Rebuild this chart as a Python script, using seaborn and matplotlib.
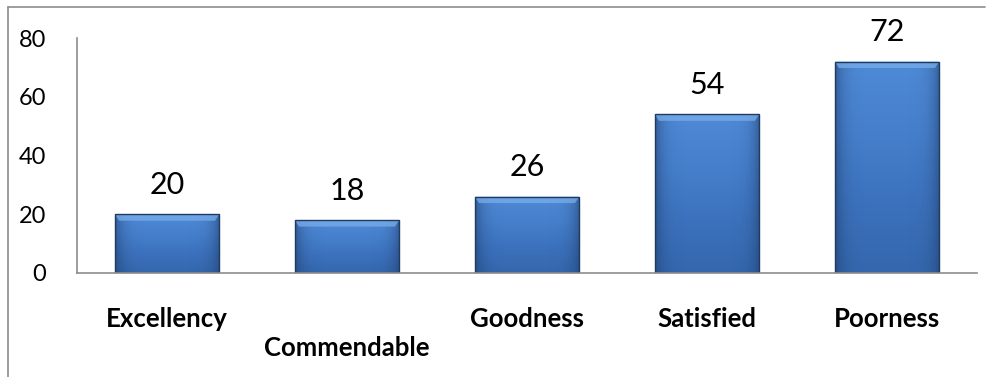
import numpy as np
import pandas as pd
import matplotlib
matplotlib.use("Agg")
import matplotlib.pyplot as plt
import matplotlib.transforms as mtransforms
from matplotlib.colors import LinearSegmentedColormap
import seaborn as sns

categories = ["Excellency", "Commendable", "Goodness", "Satisfied", "Poorness"]
values = [20, 18, 26, 54, 72]
y_ticks = [0, 20, 40, 60, 80]

sns.set_theme(style="white")
plt.rcParams["font.family"] = ["Lato", "DejaVu Sans"]

df = pd.DataFrame({"category": categories, "value": values})

fig = plt.figure(figsize=(9.95, 3.77), dpi=100)
ax = fig.add_axes([0.0774, 0.2759, 0.9045, 0.6233])

sns.barplot(data=df, x="category", y="value", color="#3f76c2", width=0.58,
            edgecolor="#1f3a63", linewidth=1.0, saturation=1, ax=ax)

# vertical gradient fill clipped to each bar, with a lighter bevel on top
grad_cmap = LinearSegmentedColormap.from_list(
    "bar", ["#3467ad", "#3c72bd", "#4680cc", "#4f8ad6"])
for patch in ax.patches:
    x0, y0 = patch.get_x(), patch.get_y()
    w, h = patch.get_width(), patch.get_height()
    grad = np.linspace(0, 1, 256).reshape(-1, 1)
    img = ax.imshow(grad, extent=[x0, x0 + w, y0, y0 + h], origin="lower",
                    cmap=grad_cmap, aspect="auto", zorder=patch.get_zorder() + 0.1,
                    interpolation="bicubic")
    img.set_clip_path(patch)
    # horizontal shading: darker near the sides
    side = np.abs(np.linspace(-1, 1, 256)).reshape(1, -1) ** 6
    side_rgba = np.zeros((1, 256, 4))
    side_rgba[..., :3] = np.array([0.12, 0.23, 0.40])
    side_rgba[..., 3] = side * 0.55
    simg = ax.imshow(side_rgba, extent=[x0, x0 + w, y0, y0 + h], origin="lower",
                     aspect="auto", zorder=patch.get_zorder() + 0.2,
                     interpolation="bicubic")
    simg.set_clip_path(patch)
    patch.set_zorder(patch.get_zorder() + 0.3)
    patch.set_facecolor("none")
    # top bevel strip
    bevel_h = 2.2
    ax.fill([x0, x0 + w, x0 + w * 0.96, x0 + w * 0.04],
            [y0 + h, y0 + h, y0 + h - bevel_h, y0 + h - bevel_h],
            color="#79aee9", alpha=0.75, lw=0, zorder=patch.get_zorder() - 0.05)

ax.set_xlim(-0.5, len(categories) - 0.5)
ax.set_ylim(0, 80)
ax.set_yticks(y_ticks)
ax.tick_params(axis="y", length=0, pad=22, labelsize=17, labelcolor="black")
ax.set_xticks(range(len(categories)))
ax.set_xticklabels([])
ax.tick_params(axis="x", length=0)
ax.set_xlabel("")
ax.set_ylabel("")

for s in ["top", "right"]:
    ax.spines[s].set_visible(False)
for s in ["left", "bottom"]:
    ax.spines[s].set_color("#8c8c8c")
    ax.spines[s].set_linewidth(1.2)

# category labels, the second one dropped to a lower row
trans = mtransforms.blended_transform_factory(ax.transData, ax.transAxes)
for i, cat in enumerate(categories):
    yoff = -0.195 if i != 1 else -0.32
    ax.text(i, yoff, cat, transform=trans, ha="center", va="center",
            fontsize=18.5, fontweight="bold", color="black")

# value labels above bars
for i, v in enumerate(values):
    ax.annotate(f"{v}", (i, v), xytext=(0, 11), textcoords="offset points",
                ha="center", va="bottom", fontsize=22, color="black")

# outer chart frame
fig.add_artist(plt.Line2D([8 / 995, 8 / 995], [0, 1 - 7 / 377],
                          transform=fig.transFigure, color="#8c8c8c", lw=1.2))
fig.add_artist(plt.Line2D([8 / 995, 985 / 995], [1 - 7 / 377, 1 - 7 / 377],
                          transform=fig.transFigure, color="#8c8c8c", lw=1.2))

fig.savefig("out.png", dpi=100)
